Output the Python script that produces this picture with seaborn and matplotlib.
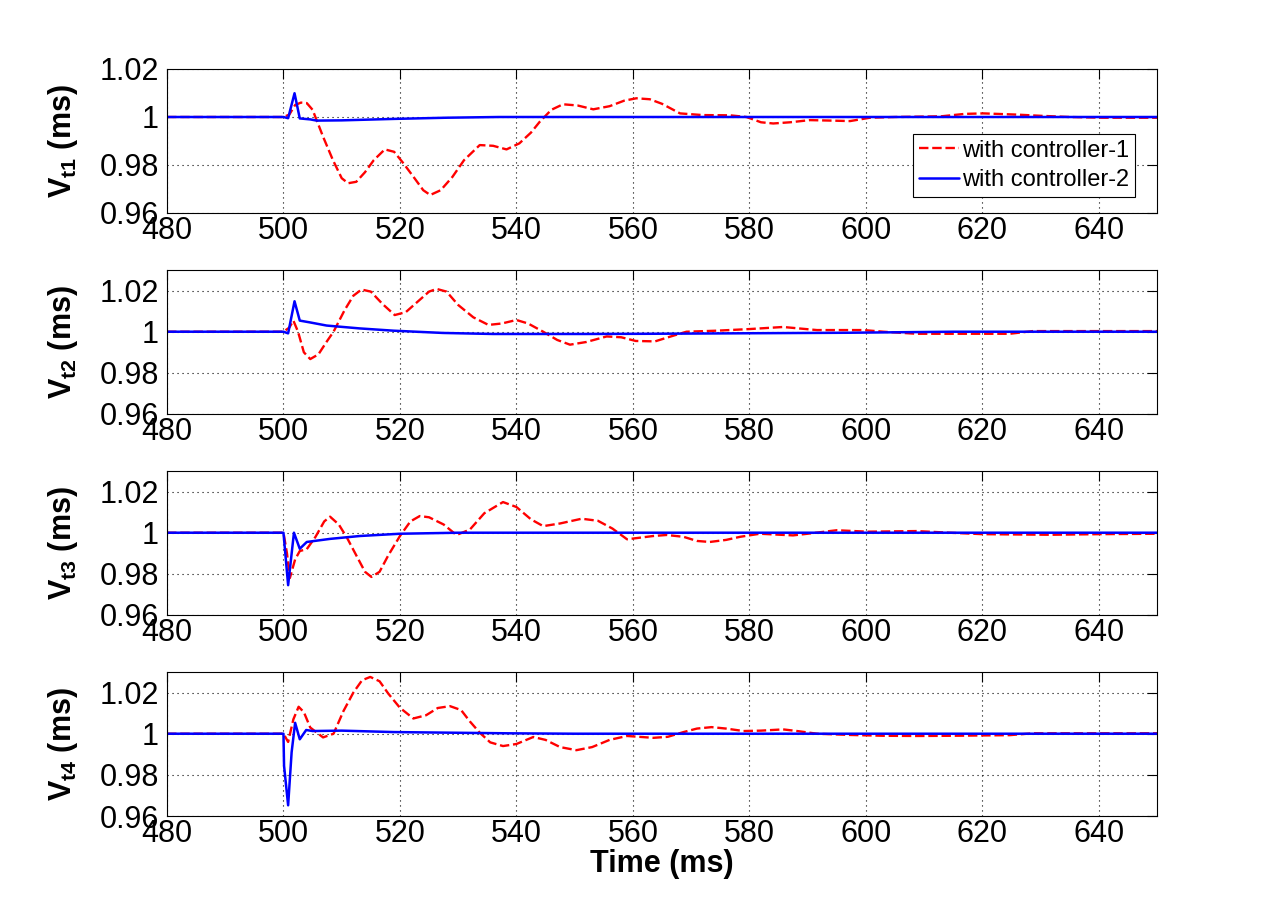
import numpy as np
import pandas as pd
import matplotlib
matplotlib.use("Agg")
import matplotlib.pyplot as plt
import seaborn as sns

# ---------------- data ----------------
x_ticks = [480, 500, 520, 540, 560, 580, 600, 620, 640]
y_ticks = [0.96, 0.98, 1.0, 1.02]
y_tick_labels = ["0.96", "0.98", "1", "1.02"]
y_labels = ["t1", "t2", "t3", "t4"]
series_names = ["with controller-1", "with controller-2"]

# Panel 1 (V_t1)
t1_red = [480, 500, 501, 502, 503, 504, 505, 506.8, 508.5, 510, 511.1, 512.5, 514, 515.5, 517.4,
          519, 520.5, 522.5, 524, 525.2, 527, 529, 531, 533.7, 536, 538.3, 540.5, 542.5, 544,
          546, 548, 550.5, 553.2, 556, 558.5, 560.6, 562.9, 565, 568.1, 572, 576.7, 579.5, 582,
          584.1, 587, 590.4, 594, 597.3, 600.7, 605, 613, 617, 620.2, 625.9, 630, 635, 640.7, 650]
v1_red = [1.0, 1.0, 1.001, 1.005, 1.006, 1.0058, 1.003, 0.9918, 0.982, 0.9745, 0.9724, 0.973, 0.977,
          0.982, 0.9865, 0.9855, 0.981, 0.9745, 0.9695, 0.9675, 0.9695, 0.975, 0.982, 0.9883, 0.988,
          0.9865, 0.989, 0.9935, 0.998, 1.003, 1.0053, 1.0048, 1.0032, 1.0045, 1.0068, 1.0078, 1.0074,
          1.0055, 1.0015, 1.0008, 1.0007, 1.0, 0.9978, 0.9973, 0.9978, 0.9987, 0.9985, 0.9983, 0.9997,
          1.0, 1.0003, 1.0013, 1.0015, 1.001, 1.0005, 1.0, 0.9997, 0.9997]
t1_blue = [480, 500, 500.8, 501.9, 502.8, 504.6, 505.7, 510, 518.9, 528, 537, 650]
v1_blue = [1.0, 1.0, 0.9995, 1.0099, 0.9994, 0.999, 0.9985, 0.9986, 0.9992, 0.9997, 1.0, 1.0]

# Panel 2 (V_t2)
t2_red = [480, 500, 501, 501.7, 502.5, 503.5, 504.6, 506, 507.5, 508.6, 510.5, 512, 513.4, 515, 517,
          519.1, 521, 523, 525, 526.3, 528, 530, 532.6, 535.2, 537.5, 540, 542, 544.6, 547, 549.2,
          552, 555.5, 558, 560.5, 563.8, 566.4, 569.2, 574.4, 580.1, 585.8, 591.6, 599.6, 603,
          608.7, 620, 624.7, 628.7, 650]
v2_red = [1.0, 1.0, 1.002, 1.0054, 1.0, 0.990, 0.9867, 0.989, 0.9955, 1.0, 1.0105, 1.0175, 1.0205,
          1.0195, 1.0135, 1.0081, 1.0095, 1.0145, 1.0195, 1.0208, 1.0195, 1.013, 1.007, 1.0033, 1.004,
          1.0057, 1.004, 1.0, 0.996, 0.9937, 0.995, 0.9977, 0.9973, 0.9955, 0.9953, 0.9976, 1.0,
          1.0005, 1.0013, 1.0023, 1.0008, 1.0008, 1.0, 0.999, 0.999, 0.999, 1.0003, 1.0003]
t2_blue = [480, 500, 500.8, 501.9, 502.8, 504.6, 507.4, 513.1, 518.9, 527.4, 536, 552, 563, 597, 615, 650]
v2_blue = [1.0, 1.0, 0.9992, 1.0148, 1.0054, 1.0045, 1.003, 1.0016, 1.0005, 0.9994, 0.9989, 0.9989,
           0.999, 0.9995, 1.0, 1.0]

# Panel 3 (V_t3)
t3_red = [480, 500, 500.6, 501.1, 502, 502.8, 504, 505.5, 507, 508, 509.5, 510.9, 512.5, 514, 515.1,
          516.5, 518, 520, 521.8, 523.4, 525, 527.5, 529.7, 532, 534.5, 537.7, 540, 542.5, 544.6,
          547.5, 551.2, 554, 556.5, 559, 563.5, 565.8, 568.7, 571, 573.2, 576, 578.4, 581.8, 587.5,
          590, 595, 600.3, 608.7, 614.4, 620, 631.6, 640, 650]
v3_red = [1.0, 1.0, 0.99, 0.978, 0.987, 0.9911, 0.992, 0.998, 1.0055, 1.0078, 1.004, 0.9976, 0.989,
          0.981, 0.9785, 0.981, 0.989, 0.9984, 1.0055, 1.0081, 1.0075, 1.004, 0.9989, 1.0015, 1.0095,
          1.0149, 1.0125, 1.0065, 1.0032, 1.0045, 1.0068, 1.0058, 1.002, 0.9968, 0.9984, 0.9989, 0.998,
          0.996, 0.9955, 0.9965, 0.998, 0.9995, 0.9987, 0.9995, 1.0012, 1.0005, 1.0008, 1.0, 0.9993,
          0.999, 0.9993, 0.9995]
t3_blue = [480, 500, 500.8, 501.8, 502.8, 504, 508, 513.1, 520, 530, 650]
v3_blue = [1.0, 1.0, 0.9745, 1.0, 0.9922, 0.9955, 0.997, 0.9984, 0.9995, 1.0, 1.0]

# Panel 4 (V_t4)
t4_red = [480, 500, 500.8, 501.7, 502.6, 503.5, 504.6, 506.8, 508.6, 510.3, 512, 513.5, 514.9, 516.5,
          518, 520, 522.3, 524.5, 526.5, 528.6, 530.5, 532, 533.7, 535.5, 537.7, 540, 542.9, 545,
          547.5, 550.3, 553, 556, 559, 563.5, 566, 568.7, 571, 573.5, 576, 579, 582, 585.8, 588.5,
          591.6, 597.3, 603, 608.7, 615, 624.7, 628.7, 650]
v4_red = [1.0, 1.0, 0.996, 1.007, 1.0131, 1.0105, 1.003, 0.9982, 1.0, 1.011, 1.02, 1.026, 1.0276,
          1.0255, 1.0195, 1.0126, 1.0074, 1.009, 1.0125, 1.0134, 1.0115, 1.006, 1.0005, 0.9958, 0.994,
          0.995, 0.9984, 0.997, 0.9935, 0.992, 0.9935, 0.997, 0.9989, 0.998, 0.9985, 1.0008, 1.0025,
          1.0032, 1.0025, 1.0013, 1.0015, 1.0021, 1.0012, 1.0, 0.9994, 0.999, 0.9989, 0.999, 0.9993,
          1.0002, 1.0002]
t4_blue = [480, 500, 500.1, 500.8, 501.4, 502, 502.8, 503.9, 505, 510, 518.9, 538.5, 550, 650]
v4_blue = [1.0, 1.0, 0.9844, 0.9652, 0.991, 1.0053, 0.9973, 1.0018, 1.0013, 1.0015, 1.0008, 1.0002,
           1.0, 1.0]

panels = [
    (t1_red, v1_red, t1_blue, v1_blue, (0.96, 1.02)),
    (t2_red, v2_red, t2_blue, v2_blue, (0.96, 1.03)),
    (t3_red, v3_red, t3_blue, v3_blue, (0.96, 1.03)),
    (t4_red, v4_red, t4_blue, v4_blue, (0.96, 1.03)),
]

# ---------------- style ----------------
sns.set_style("white")
plt.rcParams["font.family"] = ["Liberation Sans", "DejaVu Sans"]
plt.rcParams["mathtext.fontset"] = "custom"
plt.rcParams["mathtext.rm"] = "Liberation Sans"
plt.rcParams["mathtext.it"] = "Liberation Sans"
plt.rcParams["mathtext.bf"] = "Liberation Sans:bold"
plt.rcParams["text.color"] = "black"

W, H = 1277, 917
fig = plt.figure(figsize=(W / 100, H / 100), dpi=100)
fig.patch.set_facecolor("white")

left_px, right_px = 167, 1157
tops_px = [69, 270, 471, 672]
ax_h_px = 144

axes = []
for i, (tr, vr, tb, vb, ylim) in enumerate(panels):
    top = tops_px[i]
    ax = fig.add_axes([left_px / W, 1 - (top + ax_h_px) / H,
                       (right_px - left_px) / W, ax_h_px / H])
    axes.append(ax)
    sns.lineplot(x=tr, y=vr, ax=ax, color="#ff0000", linewidth=1.7,
                 label=series_names[0], sort=False)
    ax.lines[-1].set_dashes([4, 1.6])
    sns.lineplot(x=tb, y=vb, ax=ax, color="#0000ff", linewidth=1.8,
                 label=series_names[1], sort=False)

    ax.set_xlim(480, 650)
    ax.set_ylim(*ylim)
    ax.set_xticks(x_ticks)
    ax.set_xticklabels([str(v) for v in x_ticks])
    ax.set_yticks(y_ticks)
    ax.set_yticklabels(y_tick_labels)
    ax.tick_params(axis="both", direction="in", length=7, width=0.8, color="black",
                   top=True, right=True, labelsize=22, labelcolor="black")
    ax.tick_params(axis="x", pad=2)
    ax.tick_params(axis="y", pad=6)
    ax.grid(True, color="black", linestyle=(0, (1, 3.5)), linewidth=0.8)
    for s in ax.spines.values():
        s.set_color("black")
        s.set_linewidth(0.8)
        s.set_visible(True)

    ax.set_ylabel(r"$\mathbf{V_{" + y_labels[i] + r"}}$ (ms)", fontsize=22,
                  fontweight="bold", color="black")
    ax.yaxis.set_label_coords(-0.088, 0.5)
    ax.set_xlabel("")

    if i == 0:
        leg = ax.legend(loc="lower right", bbox_to_anchor=(0.978, 0.113),
                        borderaxespad=0, fontsize=17, frameon=True, fancybox=False,
                        framealpha=1, edgecolor="black", handlelength=1.7,
                        handletextpad=0.15, labelspacing=0.3, borderpad=0.25,
                        labelcolor="black")
        leg.get_frame().set_linewidth(0.8)
    else:
        lg = ax.get_legend()
        if lg is not None:
            lg.remove()

axes[-1].set_xlabel("Time (ms)", fontsize=22, fontweight="bold", color="black", labelpad=0)

fig.savefig("out.png", dpi=100, facecolor="white")
